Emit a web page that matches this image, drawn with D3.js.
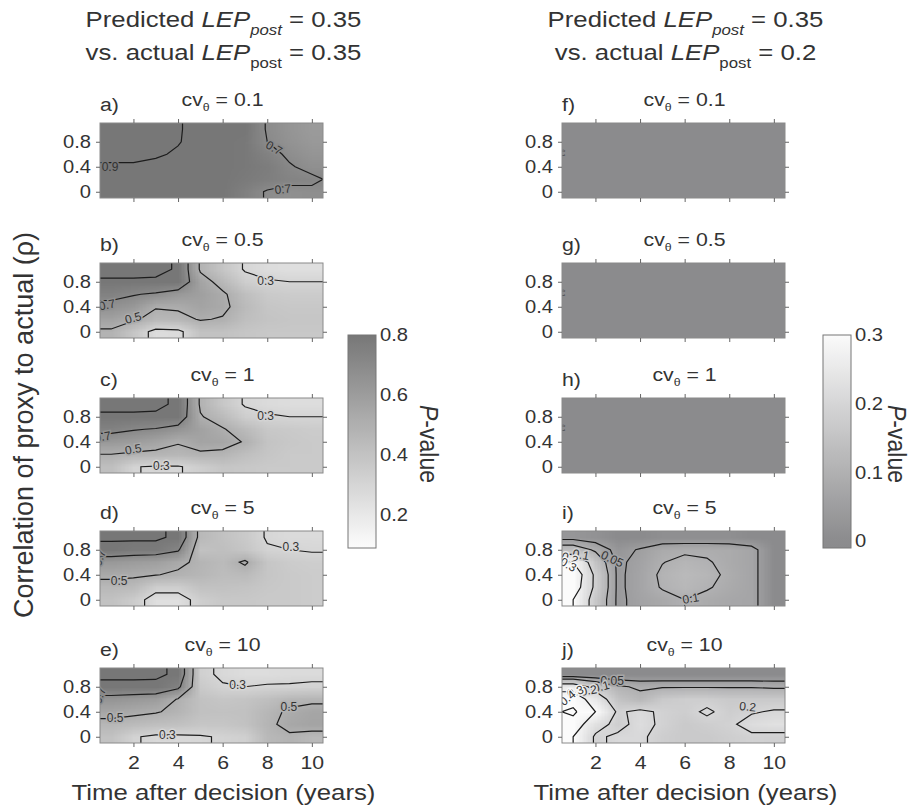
<!DOCTYPE html>
<html>
<head>
<meta charset="utf-8">
<title>P-value surfaces</title>
<script src="https://d3js.org/d3.v7.min.js"></script>
<style>
body { margin: 0; background: #fff; }
text { font-family: "Liberation Sans", Arial, Helvetica, sans-serif; fill: #333; }
.tick line { stroke: #666; }
.frame { fill: none; stroke: #8a8a8a; }
.iso { fill: none; stroke: #1c1c1c; stroke-width: 1.2; }
.iso-label { font-size: 12px; fill: #333; text-anchor: middle; dominant-baseline: central; paint-order: stroke; stroke-width: 3px; }
</style>
</head>
<body>
<svg id="chart" width="912" height="811"></svg>
<script>
// grid columns: years after decision
var years = [1, 2, 3, 4, 5, 6, 7, 8, 9, 10];
// grid rows, top to bottom: correlation of proxy to actual
var rhos = [1.0, 0.8, 0.6, 0.4, 0.2, 0.0];

var panelLetters = ["a", "b", "c", "d", "e", "f", "g", "h", "i", "j"];
var cvLabels = ["0.1", "0.5", "1", "5", "10"];
var actualLep = ["0.35", "0.2"];
var xTicks = [2, 4, 6, 8, 10];
var yTicks = [0, 0.4, 0.8];
var levelsLeft = [0.1, 0.3, 0.5, 0.7, 0.9];
var levelsRight = [0.05, 0.1, 0.2, 0.3, 0.4];
var barTicksLeft = [0.2, 0.4, 0.6, 0.8];
var barTicksRight = [0, 0.1, 0.2, 0.3];

// P-values, left column (actual LEP 0.35)
var gridA = [
  [0.93, 0.93, 0.92, 0.905, 0.88, 0.85, 0.80, 0.69, 0.64, 0.61],
  [0.93, 0.93, 0.92, 0.905, 0.87, 0.84, 0.79, 0.70, 0.65, 0.62],
  [0.92, 0.92, 0.91, 0.89, 0.86, 0.83, 0.79, 0.74, 0.68, 0.64],
  [0.89, 0.89, 0.88, 0.86, 0.84, 0.82, 0.79, 0.77, 0.71, 0.67],
  [0.87, 0.86, 0.85, 0.84, 0.83, 0.81, 0.78, 0.76, 0.73, 0.72],
  [0.86, 0.85, 0.84, 0.83, 0.82, 0.80, 0.75, 0.69, 0.67, 0.68]
];
var gridB = [
  [0.95, 0.95, 0.95, 0.88, 0.48, 0.38, 0.29, 0.26, 0.25, 0.25],
  [0.88, 0.88, 0.87, 0.85, 0.56, 0.45, 0.34, 0.31, 0.30, 0.30],
  [0.74, 0.71, 0.68, 0.62, 0.58, 0.52, 0.42, 0.36, 0.35, 0.35],
  [0.66, 0.62, 0.51, 0.52, 0.56, 0.53, 0.44, 0.38, 0.37, 0.37],
  [0.57, 0.52, 0.45, 0.46, 0.51, 0.49, 0.42, 0.39, 0.38, 0.38],
  [0.48, 0.38, 0.26, 0.27, 0.40, 0.40, 0.38, 0.37, 0.37, 0.37]
];
var gridC = [
  [0.95, 0.95, 0.95, 0.86, 0.48, 0.37, 0.29, 0.27, 0.26, 0.26],
  [0.87, 0.87, 0.86, 0.82, 0.51, 0.44, 0.34, 0.31, 0.30, 0.30],
  [0.74, 0.71, 0.69, 0.64, 0.57, 0.51, 0.44, 0.37, 0.36, 0.35],
  [0.62, 0.60, 0.56, 0.51, 0.56, 0.55, 0.49, 0.39, 0.37, 0.36],
  [0.50, 0.48, 0.47, 0.46, 0.48, 0.47, 0.42, 0.38, 0.36, 0.36],
  [0.42, 0.305, 0.29, 0.29, 0.34, 0.38, 0.37, 0.36, 0.36, 0.36]
];
var gridD = [
  [0.95, 0.95, 0.95, 0.84, 0.45, 0.40, 0.36, 0.29, 0.27, 0.27],
  [0.80, 0.78, 0.78, 0.72, 0.40, 0.42, 0.38, 0.31, 0.30, 0.29],
  [0.62, 0.60, 0.58, 0.53, 0.47, 0.44, 0.52, 0.38, 0.35, 0.34],
  [0.53, 0.52, 0.505, 0.48, 0.46, 0.43, 0.44, 0.38, 0.36, 0.35],
  [0.45, 0.44, 0.34, 0.34, 0.40, 0.40, 0.39, 0.37, 0.36, 0.35],
  [0.40, 0.35, 0.25, 0.25, 0.34, 0.37, 0.37, 0.36, 0.36, 0.35]
];
var gridE = [
  [0.95, 0.95, 0.95, 0.85, 0.33, 0.28, 0.26, 0.26, 0.27, 0.27],
  [0.84, 0.84, 0.83, 0.74, 0.36, 0.31, 0.30, 0.31, 0.31, 0.32],
  [0.64, 0.62, 0.60, 0.49, 0.40, 0.38, 0.39, 0.42, 0.46, 0.47],
  [0.55, 0.53, 0.51, 0.47, 0.41, 0.40, 0.41, 0.46, 0.52, 0.55],
  [0.46, 0.44, 0.42, 0.41, 0.38, 0.38, 0.40, 0.47, 0.54, 0.56],
  [0.40, 0.31, 0.28, 0.28, 0.29, 0.31, 0.33, 0.45, 0.48, 0.45]
];
// P-values, right column (actual LEP 0.2)
var gridF = [
  [0, 0, 0, 0, 0, 0, 0, 0, 0, 0],
  [0, 0, 0, 0, 0, 0, 0, 0, 0, 0],
  [0, 0, 0, 0, 0, 0, 0, 0, 0, 0],
  [0, 0, 0, 0, 0, 0, 0, 0, 0, 0],
  [0, 0, 0, 0, 0, 0, 0, 0, 0, 0],
  [0, 0, 0, 0, 0, 0, 0, 0, 0, 0]
];
var gridG = [
  [0, 0, 0, 0, 0, 0, 0, 0, 0, 0],
  [0, 0, 0, 0, 0, 0, 0, 0, 0, 0],
  [0, 0, 0, 0, 0, 0, 0, 0, 0, 0],
  [0, 0, 0, 0, 0, 0, 0, 0, 0, 0],
  [0, 0, 0, 0, 0, 0, 0, 0, 0, 0],
  [0, 0, 0, 0, 0, 0, 0, 0, 0, 0]
];
var gridH = [
  [0, 0, 0, 0, 0, 0, 0, 0, 0, 0],
  [0, 0, 0, 0, 0, 0, 0, 0, 0, 0],
  [0, 0, 0, 0, 0, 0, 0, 0, 0, 0],
  [0, 0, 0, 0, 0, 0, 0, 0, 0, 0],
  [0, 0, 0, 0, 0, 0, 0, 0, 0, 0],
  [0, 0, 0, 0, 0, 0, 0, 0, 0, 0]
];
var gridI = [
  [0.03, 0.02, 0.00, 0.00, 0.01, 0.01, 0.01, 0.01, 0.00, 0.00],
  [0.14, 0.09, 0.03, 0.055, 0.085, 0.09, 0.09, 0.085, 0.07, 0.00],
  [0.30, 0.15, 0.04, 0.065, 0.098, 0.115, 0.105, 0.085, 0.07, 0.00],
  [0.38, 0.18, 0.04, 0.07, 0.11, 0.125, 0.115, 0.09, 0.07, 0.00],
  [0.36, 0.18, 0.04, 0.07, 0.105, 0.12, 0.105, 0.085, 0.07, 0.00],
  [0.30, 0.16, 0.04, 0.065, 0.08, 0.10, 0.085, 0.075, 0.07, 0.00]
];
var gridJ = [
  [0.00, 0.00, 0.00, 0.00, 0.00, 0.00, 0.00, 0.00, 0.00, 0.00],
  [0.26, 0.17, 0.11, 0.09, 0.095, 0.095, 0.095, 0.095, 0.095, 0.09],
  [0.36, 0.25, 0.15, 0.12, 0.17, 0.18, 0.18, 0.17, 0.17, 0.17],
  [0.42, 0.30, 0.19, 0.215, 0.19, 0.18, 0.21, 0.18, 0.195, 0.205],
  [0.36, 0.23, 0.18, 0.22, 0.19, 0.17, 0.18, 0.19, 0.22, 0.23],
  [0.30, 0.19, 0.21, 0.21, 0.18, 0.17, 0.17, 0.18, 0.19, 0.185]
];

// contour labels: [year, rho, text, angle]
var labelsA = [[0.95, 0.40, "0.9", 0], [8.3, 0.70, "0.7", 30], [8.7, 0.04, "0.7", -5]];
var labelsB = [[0.82, 0.43, "0.7", -12], [1.99, 0.22, "0.5", -15], [7.93, 0.81, "0.3", 0]];
var labelsC = [[0.62, 0.48, "0.7", -10], [1.99, 0.28, "0.5", -10], [7.93, 0.81, "0.3", 0], [3.25, 0.02, "0.3", 0]];
var labelsD = [[0.48, 0.67, "0.7", -70], [1.36, 0.30, "0.5", 0], [9.06, 0.84, "0.3", 0]];
var labelsE = [[0.48, 0.66, "0.7", -70], [1.18, 0.30, "0.5", 0], [6.67, 0.83, "0.3", 0], [8.97, 0.48, "0.5", 0], [3.52, 0.03, "0.3", 0]];
var labelsF = [[0.56, 0.62, "0.1", 90]];
var labelsG = [[0.56, 0.62, "0.1", 90]];
var labelsH = [[0.56, 0.62, "0.1", 90]];
var labelsI = [[2.75, 0.65, "0.05", 25], [1.35, 0.72, "0.1", 10], [0.85, 0.66, "0.2", 20], [0.78, 0.56, "0.3", 30], [6.27, 0.02, "0.1", -10]];
var labelsJ = [[2.75, 0.89, "0.05", 0], [2.25, 0.80, "0.1", -15], [1.7, 0.74, "0.2", -10], [1.1, 0.72, "0.3", -20], [0.75, 0.62, "0.4", -40], [8.83, 0.48, "0.2", 5]];

var grids = [gridA, gridB, gridC, gridD, gridE, gridF, gridG, gridH, gridI, gridJ];
var isoLabels = [labelsA, labelsB, labelsC, labelsD, labelsE, labelsF, labelsG, labelsH, labelsI, labelsJ];

var svg = d3.select("#chart");
var defs = svg.append("defs");
var plotW = 223, plotH = 75;
var colLeft = [100, 562];
var rowTop = [123, 263, 398, 531, 668];
var stretch = 1.12; // the figure's lettering is a little wide

var leftShade = d3.scaleLinear().domain([0.1, 0.8]).range(["#fbfbfb", "#777777"]).clamp(true);
var rightShade = d3.scaleLinear().domain([0, 0.3]).range(["#8b8b8d", "#fbfbfb"]).clamp(true);
var shades = [leftShade, rightShade];
var levels = [levelsLeft, levelsRight];

function valueAt(grid, t, r) {
  var cx = Math.max(0, Math.min(9, t - 1)), cy = Math.max(0, Math.min(5, (1 - r) / 0.2));
  var c0 = Math.floor(cx), r0 = Math.floor(cy);
  var c1 = Math.min(9, c0 + 1), r1 = Math.min(5, r0 + 1);
  var fx = cx - c0, fy = cy - r0;
  var top = grid[r0][c0] * (1 - fx) + grid[r0][c1] * fx;
  var bot = grid[r1][c0] * (1 - fx) + grid[r1][c1] * fx;
  return top * (1 - fy) + bot * fy;
}

function heatImage(grid, shade) {
  var c = document.createElement("canvas");
  c.width = years.length; c.height = rhos.length;
  var ctx = c.getContext("2d");
  grid.forEach(function(row, r) {
    row.forEach(function(v, k) {
      ctx.fillStyle = shade(v);
      ctx.fillRect(k, r, 1, 1);
    });
  });
  return c.toDataURL();
}

function onBorder(p) { return p[0] <= 0 || p[0] >= 10 || p[1] <= 0 || p[1] >= 6; }

function snap(p, q) {
  if (!q) return;
  if (p[0] <= 0 || p[0] >= 10) p[1] = q[1];
  else if (p[1] <= 0 || p[1] >= 6) p[0] = q[0];
}

// contour rings from d3.contours, with the stretches along the plot border removed
function isolines(grid, level) {
  var flat = [].concat.apply([], grid);
  var shape = d3.contours().size([years.length, rhos.length]).thresholds([level])(flat)[0];
  var out = [];
  shape.coordinates.forEach(function(polygon) {
    polygon.forEach(function(ring) {
      var pts = ring.map(function(p) { return [p[0], p[1]]; });
      var a = pts[0], b = pts[pts.length - 1];
      if (a[0] === b[0] && a[1] === b[1]) pts.pop();
      var n = pts.length;
      var edge = function(i) { return onBorder(pts[i % n]) && onBorder(pts[(i + 1) % n]); };
      var start = -1;
      for (var i = 0; i < n; i++) if (edge(i)) { start = i + 1; break; }
      if (start < 0) { pts.push(pts[0]); out.push(pts); return; }
      var cur = [pts[start % n]];
      for (var k = 0; k < n; k++) {
        var j = start + k;
        if (edge(j)) {
          if (cur.length > 1) out.push(cur);
          cur = [pts[(j + 1) % n]];
        } else cur.push(pts[(j + 1) % n]);
      }
      if (cur.length > 1) out.push(cur);
    });
  });
  out.forEach(function(line) {
    snap(line[0], line[1]);
    snap(line[line.length - 1], line[line.length - 2]);
  });
  return out;
}

grids.forEach(function(grid, p) {
  var col = p < 5 ? 0 : 1, row = p % 5;
  var x0 = colLeft[col], y0 = rowTop[row];
  var x = d3.scaleLinear().domain([0.5, 10.5]).range([x0, x0 + plotW]);
  var y = d3.scaleLinear().domain([-0.1, 1.1]).range([y0 + plotH, y0]);
  var shade = shades[col];

  defs.append("clipPath").attr("id", "clip" + p)
    .append("rect").attr("x", x0).attr("y", y0).attr("width", plotW).attr("height", plotH);

  var g = svg.append("g");
  g.append("image")
    .attr("href", heatImage(grid, shade))
    .attr("x", x(0.5)).attr("y", y(1.1))
    .attr("width", x(10.5) - x(0.5)).attr("height", y(-0.1) - y(1.1))
    .attr("preserveAspectRatio", "none");

  var line = d3.line()
    .x(function(d) { return x(d[0] + 0.5); })
    .y(function(d) { return y(1.1 - 0.2 * d[1]); });

  var iso = g.append("g").attr("clip-path", "url(#clip" + p + ")");
  levels[col].forEach(function(lv) {
    isolines(grid, lv).forEach(function(pts) {
      iso.append("path").attr("class", "iso").attr("d", line(pts));
    });
  });

  iso.selectAll(".iso-label")
    .data(isoLabels[p]).enter().append("text")
      .attr("class", "iso-label")
      .attr("transform", function(d) { return "translate(" + x(d[0]) + "," + y(d[1]) + ") rotate(" + d[3] + ")"; })
      .style("stroke", function(d) { return shade(valueAt(grid, d[0], d[1])); })
      .style("font-size", function(d) { return d[3] === 90 ? "5px" : null; })
      .text(function(d) { return d[2]; });

  g.append("rect").attr("class", "frame")
    .attr("x", x0).attr("y", y0).attr("width", plotW).attr("height", plotH);

  var ax = g.append("g").attr("transform", "translate(" + x0 + ",0)")
    .call(d3.axisLeft(y).tickValues(yTicks).tickSize(4).tickPadding(4).tickFormat(d3.format("")));
  g.append("g").attr("transform", "translate(" + (x0 + plotW) + ",0)")
    .call(d3.axisRight(y).tickValues(yTicks).tickSize(4).tickFormat(""));
  g.append("g").attr("transform", "translate(0," + y0 + ")")
    .call(d3.axisTop(x).tickValues(xTicks).tickSize(4).tickFormat(""));
  var bx = g.append("g").attr("transform", "translate(0," + (y0 + plotH) + ")")
    .call(d3.axisBottom(x).tickValues(xTicks).tickSize(4).tickPadding(9)
      .tickFormat(row === 4 ? d3.format("") : ""));
  g.selectAll(".domain").remove();
  g.selectAll(".tick text").attr("fill", "#333").style("font-family", null);
  ax.selectAll(".tick text").style("font-size", "18px").attr("transform", "scale(" + stretch + ",1)");
  bx.selectAll(".tick text").style("font-size", "19px").attr("transform", "scale(" + stretch + ",1)");

  // panel letter and title
  svg.append("text")
    .attr("transform", "translate(" + x0 + "," + (y0 - 12) + ") scale(" + stretch + ",1)")
    .style("font-size", "19px").text(panelLetters[p] + ")");
  var title = svg.append("text")
    .attr("transform", "translate(" + (x0 + plotW / 2 + 11) + "," + (y0 - 17) + ") scale(" + stretch + ",1)")
    .attr("text-anchor", "middle").style("font-size", "19px");
  title.append("tspan").text("cv");
  title.append("tspan").attr("dy", 5).style("font-size", "11px").text("\u03b8");
  title.append("tspan").attr("dy", -5).text(" = " + cvLabels[row]);
});

// column headers
[0, 1].forEach(function(col) {
  var cx = colLeft[col] + plotW / 2 + 12;
  var l1 = svg.append("text")
    .attr("transform", "translate(" + cx + ",27) scale(" + stretch + ",1)")
    .attr("text-anchor", "middle").style("font-size", "23px");
  l1.append("tspan").text("Predicted ");
  l1.append("tspan").style("font-style", "italic").text("LEP");
  l1.append("tspan").style("font-style", "italic").style("font-size", "15px").attr("dy", 8).text("post");
  l1.append("tspan").attr("dy", -8).text(" = 0.35");
  var l2 = svg.append("text")
    .attr("transform", "translate(" + cx + ",60) scale(" + stretch + ",1)")
    .attr("text-anchor", "middle").style("font-size", "23px");
  l2.append("tspan").text("vs. actual ");
  l2.append("tspan").style("font-style", "italic").text("LEP");
  l2.append("tspan").style("font-size", "15px").attr("dy", 8).text("post");
  l2.append("tspan").attr("dy", -8).text(" = " + actualLep[col]);

  svg.append("text")
    .attr("transform", "translate(" + cx + ",800) scale(" + stretch + ",1)")
    .attr("text-anchor", "middle").style("font-size", "23px")
    .text("Time after decision (years)");
});

svg.append("text")
  .attr("transform", "translate(33,425) rotate(-90)")
  .attr("text-anchor", "middle").style("font-size", "27px")
  .text("Correlation of proxy to actual (\u03c1)");

// colour bars
var bars = [
  {x: 348, domain: [0.09, 0.8], shade: leftShade, ticks: barTicksLeft, labelX: 420},
  {x: 823, domain: [-0.01, 0.3], shade: rightShade, ticks: barTicksRight, labelX: 888}
];
bars.forEach(function(b, i) {
  var s = d3.scaleLinear().domain(b.domain).range([548, 335]);
  var grad = defs.append("linearGradient").attr("id", "bar" + i)
    .attr("x1", 0).attr("y1", 1).attr("x2", 0).attr("y2", 0);
  d3.range(0, 1.0001, 0.05).forEach(function(f) {
    grad.append("stop").attr("offset", f)
      .attr("stop-color", b.shade(b.domain[0] + f * (b.domain[1] - b.domain[0])));
  });
  svg.append("rect").attr("x", b.x).attr("y", 335).attr("width", 28).attr("height", 213)
    .attr("fill", "url(#bar" + i + ")").attr("stroke", "#777");
  svg.selectAll(".barlab" + i).data(b.ticks).enter().append("text")
    .attr("transform", function(d) { return "translate(" + (b.x + 32) + "," + s(d) + ") scale(" + stretch + ",1)"; })
    .attr("dy", "0.35em").style("font-size", "18px")
    .text(d3.format(""));
  var pv = svg.append("text")
    .attr("transform", "translate(" + b.labelX + ",444) rotate(90) scale(1," + stretch + ")")
    .attr("text-anchor", "middle").style("font-size", "23px");
  pv.append("tspan").style("font-style", "italic").text("P");
  pv.append("tspan").text("-value");
});
</script>
</body>
</html>
